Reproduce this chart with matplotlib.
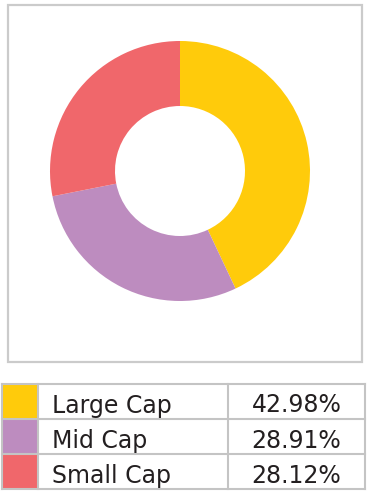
import matplotlib
matplotlib.use('Agg')
import matplotlib.pyplot as plt
from matplotlib.patches import Rectangle

# ----- Data -----
categories = ['Large Cap', 'Mid Cap', 'Small Cap']
shares = [42.98, 28.91, 28.12]
labels = ['42.98%', '28.91%', '28.12%']
colors = ['#FFCB0B', '#BD8CBF', '#F0676B']

W, H = 372, 495
fig = plt.figure(figsize=(W / 100, H / 100), dpi=100)

# full-figure overlay in pixel coords (y down)
bg = fig.add_axes([0, 0, 1, 1])
bg.set_xlim(0, W)
bg.set_ylim(H, 0)
bg.axis('off')

# chart frame
bg.add_patch(Rectangle((7.5, 4.5), 354.5, 357.5, fill=False,
                       edgecolor='#cbcbcb', linewidth=1.6))

# donut
cx, cy, r = 180, 171, 130
ax = fig.add_axes([(cx - r) / W, (H - cy - r) / H, 2 * r / W, 2 * r / H])
ax.pie(shares, colors=colors, startangle=90, counterclock=False,
       radius=1, wedgeprops=dict(width=0.5, linewidth=0))
ax.set_xlim(-1, 1)
ax.set_ylim(-1, 1)
ax.set_aspect('equal')
ax.axis('off')

# legend table
x0, x1, x2, x3 = 2, 38, 228, 365
row_h = 35.3
top = 383.5
line_c = '#c4c4c4'
font = dict(fontsize=17, family='DejaVu Sans', color='#231f20', va='baseline')
for i, (cat, lab, col) in enumerate(zip(categories, labels, colors)):
    y = top + i * row_h
    bg.add_patch(Rectangle((x0, y), x1 - x0, row_h, facecolor=col,
                           edgecolor='none'))
    bg.text(x1 + 14, y + 29, cat, ha='left', **font)
    bg.text((x2 + x3) / 2, y + 29, lab, ha='center', **font)

bottom = top + 3 * row_h
for i in range(4):
    y = top + i * row_h
    bg.plot([x0, x3], [y, y], color=line_c, linewidth=1.5)
for x in (x0, x1, x2, x3):
    bg.plot([x, x], [top, bottom], color=line_c, linewidth=1.5)

fig.savefig('out.png', dpi=100)
